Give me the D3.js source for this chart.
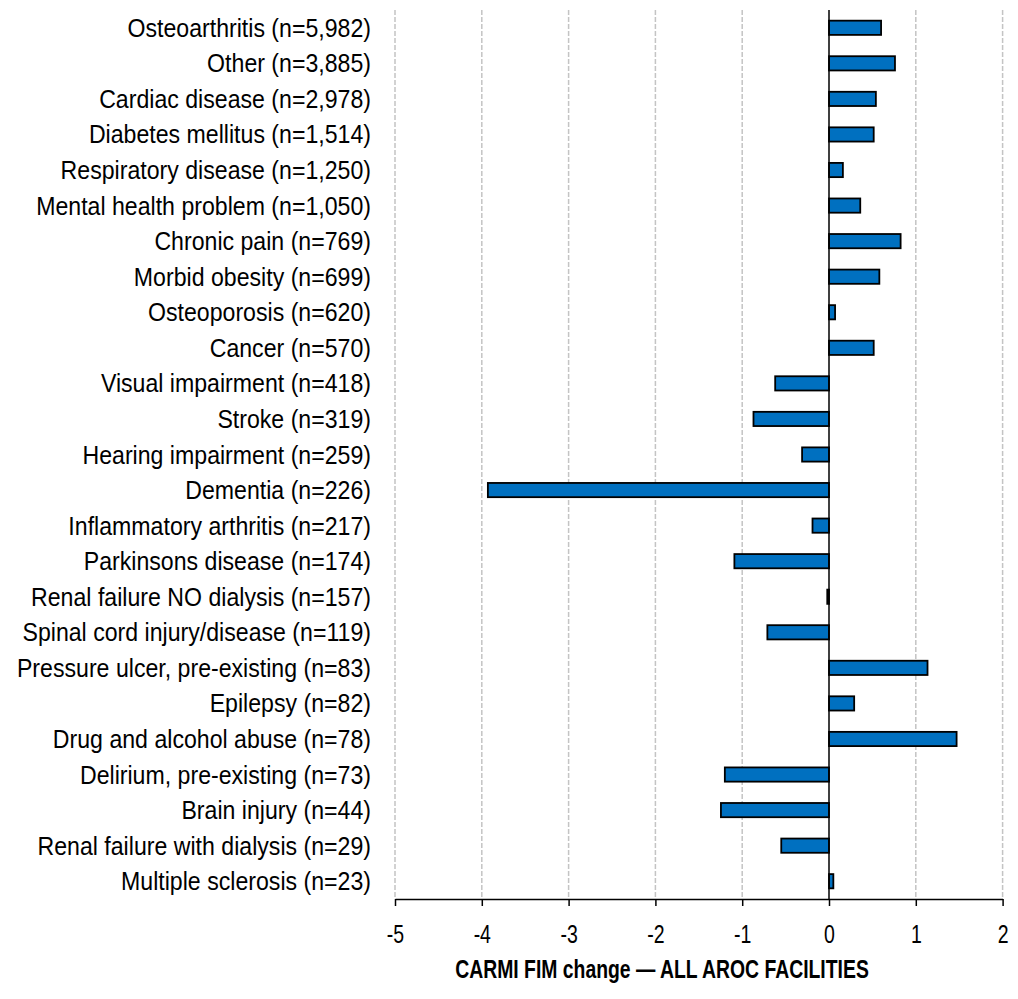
<!DOCTYPE html>
<html>
<head>
<meta charset="utf-8">
<script src="https://cdn.jsdelivr.net/npm/d3@7"></script>
<style>
  html, body { margin: 0; padding: 0; background: #fff; }
  svg text { font-family: "Liberation Sans Narrow", "Arial Narrow", "Liberation Sans", Arial, sans-serif; }
</style>
</head>
<body>
<svg id="chart" width="1018" height="999"></svg>
<script>
// Comorbidity groups, with number of episodes
const categories = [
  "Osteoarthritis (n=5,982)",
  "Other (n=3,885)",
  "Cardiac disease (n=2,978)",
  "Diabetes mellitus (n=1,514)",
  "Respiratory disease (n=1,250)",
  "Mental health problem (n=1,050)",
  "Chronic pain (n=769)",
  "Morbid obesity (n=699)",
  "Osteoporosis (n=620)",
  "Cancer (n=570)",
  "Visual impairment (n=418)",
  "Stroke (n=319)",
  "Hearing impairment (n=259)",
  "Dementia (n=226)",
  "Inflammatory arthritis (n=217)",
  "Parkinsons disease (n=174)",
  "Renal failure NO dialysis (n=157)",
  "Spinal cord injury/disease (n=119)",
  "Pressure ulcer, pre-existing (n=83)",
  "Epilepsy (n=82)",
  "Drug and alcohol abuse (n=78)",
  "Delirium, pre-existing (n=73)",
  "Brain injury (n=44)",
  "Renal failure with dialysis (n=29)",
  "Multiple sclerosis (n=23)"
];

// CARMI FIM change per group
const fimChange = [
  0.60, 0.76, 0.54, 0.515, 0.16, 0.36, 0.825, 0.58, 0.07, 0.515,
  -0.62, -0.87, -0.31, -3.93, -0.19, -1.09, -0.02, -0.71, 1.135, 0.29,
  1.47, -1.20, -1.245, -0.55, 0.05
];

const xTicks = [-5, -4, -3, -2, -1, 0, 1, 2];
const xTitle = "CARMI FIM change \u2014 ALL AROC FACILITIES";

const plotTop = 10, plotBottom = 899, plotLeft = 395, plotRight = 1002.6;
const svg = d3.select("#chart");

const x = d3.scaleLinear().domain([-5, 2]).range([plotLeft, plotRight]);
const y = d3.scaleBand().domain(categories).range([plotTop, plotBottom]).paddingInner(0.6).paddingOuter(0.3);

// dashed vertical gridlines
svg.append("g")
  .selectAll("line")
  .data(xTicks.filter(d => d !== 0))
  .join("line")
  .attr("x1", d => x(d)).attr("x2", d => x(d))
  .attr("y1", plotTop).attr("y2", plotBottom)
  .attr("stroke", "#c4c4c4")
  .attr("stroke-width", 1.5)
  .attr("stroke-dasharray", "5,2");

// bars
svg.append("g")
  .selectAll("rect")
  .data(categories.map((c, i) => ({ c, v: fimChange[i] })))
  .join("rect")
  .attr("x", d => Math.min(x(0), x(d.v)))
  .attr("width", d => Math.abs(x(d.v) - x(0)))
  .attr("y", d => y(d.c))
  .attr("height", y.bandwidth())
  .attr("fill", "#0070C0")
  .attr("stroke", "#000")
  .attr("stroke-width", 1.8);

// zero line
svg.append("line")
  .attr("x1", x(0)).attr("x2", x(0))
  .attr("y1", plotTop).attr("y2", plotBottom)
  .attr("stroke", "#000").attr("stroke-width", 1.5);

// category labels (condensed)
svg.append("g")
  .selectAll("text")
  .data(categories)
  .join("text")
  .attr("transform", d => `translate(371,${y(d) + y.bandwidth() / 2 + 9}) scale(0.925,1)`)
  .attr("text-anchor", "end")
  .attr("font-size", 25)
  .attr("fill", "#000")
  .text(d => d);

// x axis
const xAxis = d3.axisBottom(x).tickValues(xTicks).tickSize(7).tickSizeOuter(0)
  .tickFormat(d => String(d));
const gx = svg.append("g").attr("transform", `translate(0,${plotBottom})`).call(xAxis);
gx.select(".domain").attr("stroke", "#000").attr("stroke-width", 1.5);
gx.selectAll(".tick line").attr("stroke", "#000").attr("stroke-width", 1.5);
gx.selectAll(".tick text").remove();
gx.selectAll(".tick").append("text")
  .attr("transform", "translate(0,44) scale(0.78,1)")
  .attr("text-anchor", "middle")
  .attr("font-size", 25)
  .attr("fill", "#000")
  .text(d => String(d));

// axis title
svg.append("text")
  .attr("transform", "translate(662,978) scale(0.775,1)")
  .attr("text-anchor", "middle")
  .attr("font-size", 25)
  .attr("font-weight", "bold")
  .attr("fill", "#000")
  .text(xTitle);
</script>
</body>
</html>
